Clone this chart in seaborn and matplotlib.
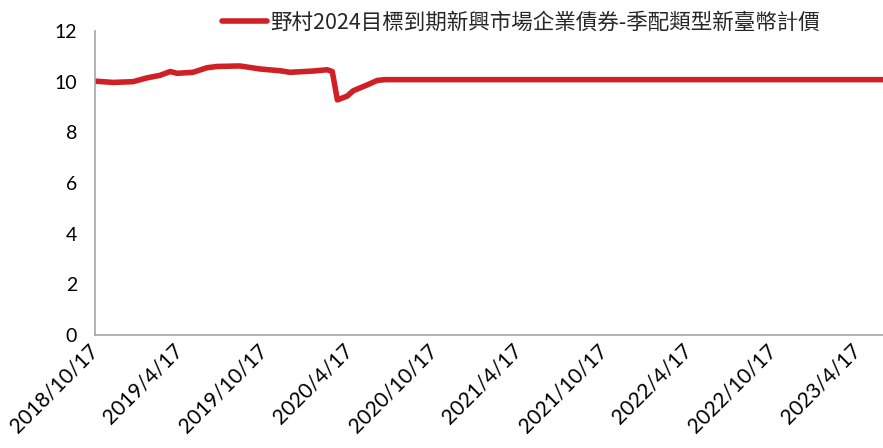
import pandas as pd
import matplotlib
matplotlib.use("Agg")
import matplotlib.pyplot as plt
import matplotlib.dates as mdates
import seaborn as sns

# NAV series
dates = ["2018-10-17", "2018-11-25", "2019-01-07", "2019-02-06", "2019-03-06",
         "2019-03-28", "2019-04-12", "2019-05-16", "2019-06-15", "2019-07-07",
         "2019-08-25", "2019-10-08", "2019-11-20", "2019-12-11", "2020-01-30",
         "2020-02-29", "2020-03-11", "2020-03-22", "2020-04-12", "2020-04-25",
         "2020-05-25", "2020-06-16", "2020-07-03", "2023-06-10"]
nav = [10.02, 9.97, 10.0, 10.15, 10.25,
       10.4, 10.33, 10.37, 10.55, 10.6,
       10.62, 10.5, 10.43, 10.37, 10.42,
       10.47, 10.4, 9.28, 9.43, 9.64,
       9.87, 10.05, 10.08, 10.08]
series_name = "野村2024目標到期新興市場企業債券-季配類型新臺幣計價"
y_ticks = [0, 2, 4, 6, 8, 10, 12]

df = pd.DataFrame({"date": pd.to_datetime(dates), "nav": nav, "name": series_name})

sns.set_style("white")
plt.rcParams["font.family"] = ["Lato", "Noto Sans CJK TC", "DejaVu Sans"]

fig = plt.figure(figsize=(8.83, 4.48), dpi=100)
ax = fig.add_axes([95 / 883, 1 - 335 / 448, 1 - 95 / 883, (335 - 31) / 448])

sns.lineplot(data=df, x="date", y="nav", hue="name", palette=["#CF2026"],
             linewidth=4, ax=ax, legend=False)

ax.set_xlim(pd.Timestamp("2018-10-17"), pd.Timestamp("2023-06-10"))
ax.set_ylim(0, 12)
ax.set_yticks(y_ticks)
ax.xaxis.set_major_locator(mdates.MonthLocator(bymonth=(4, 10), bymonthday=17))
ax.xaxis.set_major_formatter(mdates.DateFormatter("%Y/%-m/%d"))
ax.set_xlabel("")
ax.set_ylabel("")

for s in ["top", "right"]:
    ax.spines[s].set_visible(False)
for s in ["left", "bottom"]:
    ax.spines[s].set_color("#A6A6A6")
    ax.spines[s].set_linewidth(1.2)
ax.tick_params(axis="both", direction="out", length=5, width=1.2, color="#A6A6A6",
               labelcolor="black")
ax.tick_params(axis="y", labelsize=14, pad=8)
ax.tick_params(axis="x", labelsize=15, pad=4)
for lab in ax.get_xticklabels():
    lab.set_rotation(45)
    lab.set_ha("right")
    lab.set_va("center")
    lab.set_rotation_mode("anchor")

handle = plt.Line2D([], [], color="#CF2026", linewidth=4)
fig.legend([handle], [series_name], loc="center", bbox_to_anchor=(521 / 883, 1 - 23 / 448),
           frameon=False, handlelength=2.1, handletextpad=0.15,
           prop={"family": ["Noto Sans CJK TC", "DejaVu Sans"], "size": 15.5})

fig.savefig("out.png", dpi=100)
